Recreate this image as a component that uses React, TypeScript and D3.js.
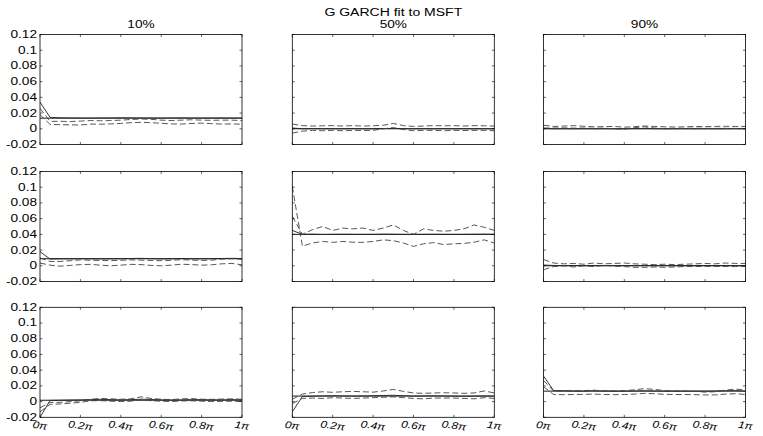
import React from 'react';
import * as d3 from 'd3';

const chartTitle = 'G GARCH fit to MSFT';
const columnTitles = ['10%', '50%', '90%'];
const freq = [0, 0.05, 0.1, 0.15, 0.2, 0.25, 0.3, 0.35, 0.4, 0.45, 0.5, 0.55, 0.6, 0.65, 0.7, 0.75, 0.8, 0.85, 0.9, 0.95, 1];
const xTicks = [0, 0.2, 0.4, 0.6, 0.8, 1];
const xTickLabels = ['0π', '0.2π', '0.4π', '0.6π', '0.8π', '1π'];
const yTicks = [-0.02, 0, 0.02, 0.04, 0.06, 0.08, 0.1, 0.12];
const yTickLabels = ['-0.02', '0', '0.02', '0.04', '0.06', '0.08', '0.1', '0.12'];

// true (reference) level in each panel, row by row
const trueValues = [0.0135, 0, 0, 0.009, 0.04, 0, 0.0017, 0.007, 0.0133];

// row 1
const est1 = [0.034, 0.0145, 0.014, 0.0138, 0.0137, 0.0137, 0.0138, 0.0138, 0.014, 0.0139, 0.0138, 0.0137, 0.0137, 0.0138, 0.0139, 0.0138, 0.0137, 0.0138, 0.0138, 0.0137, 0.0137];
const upper1 = [0.026, 0.0095, 0.0095, 0.0092, 0.0098, 0.0105, 0.0102, 0.0105, 0.011, 0.0118, 0.0125, 0.012, 0.011, 0.0105, 0.011, 0.0115, 0.011, 0.0108, 0.011, 0.011, 0.0105];
const lower1 = [0.018, 0.0055, 0.0052, 0.005, 0.0048, 0.006, 0.0058, 0.0062, 0.0068, 0.0078, 0.0082, 0.0078, 0.007, 0.0062, 0.006, 0.0068, 0.0072, 0.0065, 0.006, 0.0062, 0.0058];

const est2 = [0.001, 0.0, 0.0002, 0.0, 0.0001, 0.0, 0.0002, 0.0, 0.0001, 0.0003, 0.0005, 0.0002, 0.0, 0.0001, 0.0, 0.0001, 0.0, 0.0001, 0.0, 0.0001, 0.0];
const upper2 = [0.006, 0.004, 0.0035, 0.0038, 0.004, 0.0035, 0.004, 0.0035, 0.0038, 0.0045, 0.0068, 0.004, 0.003, 0.0035, 0.004, 0.0038, 0.004, 0.0035, 0.004, 0.0038, 0.0035];
const lower2 = [-0.0055, -0.003, -0.002, -0.0025, -0.002, -0.0025, -0.002, -0.0022, -0.002, 0.0, 0.0015, -0.001, -0.0025, -0.002, -0.002, -0.0025, -0.002, -0.0022, -0.002, -0.002, -0.0025];

const est3 = [0.0005, 0.0, 0.0001, 0.0, 0.0001, 0.0, 0.0001, 0.0, 0.0, 0.0002, 0.0003, 0.0001, 0.0, 0.0, 0.0001, 0.0, 0.0001, 0.0, 0.0, 0.0001, 0.0];
const upper3 = [0.0045, 0.003, 0.0035, 0.004, 0.0032, 0.0025, 0.0028, 0.003, 0.002, 0.0028, 0.0035, 0.003, 0.0025, 0.0022, 0.0025, 0.003, 0.0028, 0.003, 0.0032, 0.003, 0.003];
const lower3 = [0.001, 0.001, 0.0012, 0.0008, 0.001, 0.0005, 0.0008, 0.0, -0.0005, 0.0015, 0.0025, 0.001, 0.0, 0.0005, 0.0005, 0.0008, 0.0006, 0.0005, 0.0006, 0.0005, 0.0004];

// row 2
const est4 = [0.018, 0.0085, 0.0088, 0.0088, 0.009, 0.0088, 0.0087, 0.0088, 0.0089, 0.0092, 0.0095, 0.009, 0.0087, 0.0088, 0.0092, 0.0088, 0.0088, 0.009, 0.0093, 0.0095, 0.0092];
const upper4 = [0.01, 0.0055, 0.0055, 0.0065, 0.0075, 0.007, 0.0068, 0.0065, 0.007, 0.0075, 0.0072, 0.0068, 0.0065, 0.007, 0.0078, 0.0072, 0.0068, 0.0072, 0.0085, 0.009, 0.0082];
const lower4 = [0.0035, 0.0008, -0.0005, 0.0005, 0.0015, 0.0018, 0.0008, 0.0, 0.0008, 0.0018, 0.0015, 0.0005, 0.0, 0.0008, 0.002, 0.0015, 0.0008, 0.0012, 0.0025, 0.003, 0.0012];

const est5 = [0.045, 0.04, 0.0402, 0.0398, 0.04, 0.0401, 0.04, 0.0399, 0.04, 0.0402, 0.0401, 0.0399, 0.04, 0.04, 0.0401, 0.04, 0.0399, 0.04, 0.0401, 0.0402, 0.04];
const upper5 = [0.063, 0.04, 0.046, 0.05, 0.045, 0.048, 0.047, 0.048, 0.045, 0.048, 0.052, 0.045, 0.04, 0.047, 0.045, 0.044, 0.045, 0.047, 0.052, 0.049, 0.045];
const lower5 = [0.101, 0.025, 0.029, 0.031, 0.0298, 0.031, 0.03, 0.0298, 0.031, 0.033, 0.032, 0.029, 0.0247, 0.028, 0.0295, 0.027, 0.028, 0.0285, 0.03, 0.033, 0.029];

const est6 = [0.001, 0.0004, 0.0003, 0.0004, 0.0003, 0.0004, 0.0003, 0.0004, 0.0003, 0.0002, 0.0003, 0.0002, 0.0003, 0.0002, 0.0003, 0.0003, 0.0004, 0.0003, 0.0004, 0.0003, 0.0003];
const upper6 = [0.008, 0.0035, 0.0025, 0.003, 0.002, 0.0035, 0.0025, 0.003, 0.0035, 0.0025, 0.002, 0.0015, 0.002, 0.0015, 0.002, 0.0025, 0.003, 0.0025, 0.0035, 0.003, 0.003];
const lower6 = [-0.005, -0.001, 0.0, -0.0015, 0.0, -0.001, 0.0005, -0.0005, -0.001, -0.002, -0.002, -0.0015, -0.002, -0.0015, -0.001, -0.001, -0.0008, -0.0008, -0.001, -0.001, -0.0008];

// row 3
const est7 = [-0.02, 0.0015, 0.0017, 0.002, 0.0022, 0.0025, 0.0028, 0.0025, 0.0022, 0.0025, 0.003, 0.0028, 0.0022, 0.002, 0.0022, 0.0025, 0.0025, 0.0022, 0.0022, 0.0025, 0.0022];
const upper7 = [-0.008, -0.001, -0.001, 0.0, 0.001, 0.003, 0.004, 0.0035, 0.003, 0.0035, 0.006, 0.004, 0.003, 0.0025, 0.0035, 0.0038, 0.003, 0.0028, 0.0032, 0.0035, 0.003];
const lower7 = [-0.013, -0.0035, -0.003, -0.002, -0.001, 0.001, 0.0012, 0.0005, 0.0, 0.0005, 0.0025, 0.001, 0.0005, 0.0, 0.0008, 0.001, 0.0005, 0.0, 0.0003, 0.0005, 0.0];

const est8 = [-0.013, 0.0065, 0.007, 0.0072, 0.0075, 0.0073, 0.007, 0.0072, 0.0075, 0.0078, 0.008, 0.0075, 0.007, 0.0072, 0.0073, 0.0072, 0.007, 0.0068, 0.007, 0.0072, 0.007];
const upper8 = [0.003, 0.0095, 0.0115, 0.0125, 0.0118, 0.0125, 0.013, 0.0125, 0.012, 0.0135, 0.0155, 0.013, 0.011, 0.0105, 0.011, 0.0112, 0.011, 0.0105, 0.011, 0.0135, 0.011];
const lower8 = [-0.0025, 0.004, 0.0045, 0.004, 0.005, 0.0045, 0.004, 0.0045, 0.005, 0.0055, 0.006, 0.005, 0.004, 0.0035, 0.0045, 0.0045, 0.0045, 0.004, 0.0035, 0.005, 0.004];

const est9 = [0.0325, 0.014, 0.0138, 0.0135, 0.0133, 0.0138, 0.0135, 0.0133, 0.0133, 0.0135, 0.0138, 0.0135, 0.0133, 0.0133, 0.0133, 0.0133, 0.0132, 0.0135, 0.0138, 0.014, 0.0133];
const upper9 = [0.027, 0.0135, 0.0138, 0.0133, 0.014, 0.0145, 0.0133, 0.0135, 0.0138, 0.015, 0.0165, 0.0155, 0.014, 0.0135, 0.0133, 0.013, 0.012, 0.0125, 0.0145, 0.016, 0.0145];
const lower9 = [0.019, 0.009, 0.0088, 0.009, 0.0092, 0.0095, 0.009, 0.0088, 0.009, 0.0095, 0.0105, 0.01, 0.0092, 0.009, 0.009, 0.0088, 0.0085, 0.0085, 0.0095, 0.01, 0.009];

const panels = [
  { est: est1, upper: upper1, lower: lower1 },
  { est: est2, upper: upper2, lower: lower2 },
  { est: est3, upper: upper3, lower: lower3 },
  { est: est4, upper: upper4, lower: lower4 },
  { est: est5, upper: upper5, lower: lower5 },
  { est: est6, upper: upper6, lower: lower6 },
  { est: est7, upper: upper7, lower: lower7 },
  { est: est8, upper: upper8, lower: lower8 },
  { est: est9, upper: upper9, lower: lower9 },
];

const colLeft = [40, 292.3, 543.5];
const rowTop = [34.5, 171.5, 307.3];
const PW = 202;
const PH = 110;
const FONT = '"Liberation Sans", Arial, Helvetica, sans-serif';

function StretchText({ x, y, text, size, anchor = 'middle', sx = 1.25, italic = false, rotate = 0, baseline = 'auto' }: any) {
  return (
    <text
      transform={`translate(${x},${y}) rotate(${rotate}) scale(${sx},1)`}
      textAnchor={anchor}
      dominantBaseline={baseline}
      fontFamily={FONT}
      fontSize={size}
      fontStyle={italic ? 'italic' : 'normal'}
      fill="#000"
    >
      {text}
    </text>
  );
}

function Panel({ idx }: { idx: number }) {
  const r = Math.floor(idx / 3);
  const c = idx % 3;
  const left = colLeft[c];
  const top = rowTop[r];
  const x = d3.scaleLinear().domain([0, 1]).range([0, PW]);
  const y = d3.scaleLinear().domain([-0.02, 0.12]).range([PH, 0]);
  const line = d3.line<number>().x((_, i) => x(freq[i])).y((d) => y(d));
  const p = panels[idx];
  const tv = trueValues[idx];
  const tl = 2.5;
  return (
    <g transform={`translate(${left},${top})`}>
      <defs>
        <clipPath id={`clip${idx}`}>
          <rect x={0} y={0} width={PW} height={PH} />
        </clipPath>
      </defs>
      <g clipPath={`url(#clip${idx})`} fill="none">
        <line x1={x(0)} x2={x(1)} y1={y(tv)} y2={y(tv)} stroke="#000" strokeWidth={0.9} />
        <path d={line(p.est) || ''} stroke="#222" strokeWidth={0.9} />
        <path d={line(p.upper) || ''} stroke="#444" strokeWidth={0.9} strokeDasharray="6,3" />
        <path d={line(p.lower) || ''} stroke="#444" strokeWidth={0.9} strokeDasharray="6,3" />
      </g>
      {xTicks.map((t) => (
        <g key={`xt${t}`} stroke="#000" strokeWidth={0.6}>
          <line x1={x(t)} x2={x(t)} y1={PH} y2={PH - tl} />
          <line x1={x(t)} x2={x(t)} y1={0} y2={tl} />
        </g>
      ))}
      {yTicks.map((t) => (
        <g key={`yt${t}`} stroke="#000" strokeWidth={0.6}>
          <line x1={0} x2={tl} y1={y(t)} y2={y(t)} />
          <line x1={PW} x2={PW - tl} y1={y(t)} y2={y(t)} />
        </g>
      ))}
      <rect x={0} y={0} width={PW} height={PH} fill="none" stroke="#000" strokeWidth={0.8} />
      {c === 0 &&
        yTicks.map((t, i) => (
          <StretchText key={`yl${t}`} x={-3} y={y(t)} text={yTickLabels[i]} size={10.5} anchor="end" sx={1.3} baseline="central" />
        ))}
      {r === 2 &&
        xTicks.map((t, i) => (
          <StretchText key={`xl${t}`} x={x(t)} y={PH + 8} text={xTickLabels[i]} size={10} sx={1.2} italic rotate={8} baseline="central" />
        ))}
      {r === 0 && <StretchText x={PW / 2} y={-7} text={columnTitles[c]} size={10.5} sx={1.3} />}
    </g>
  );
}

export default function App() {
  return (
    <svg width={763} height={436} style={{ position: 'absolute', left: 0, top: 0, background: '#fff' }}>
      <rect x={0} y={0} width={763} height={436} fill="#fff" />
      <StretchText x={colLeft[1] + PW / 2} y={16} text={chartTitle} size={11.5} sx={1.22} />
      {panels.map((_, i) => (
        <Panel key={i} idx={i} />
      ))}
    </svg>
  );
}
